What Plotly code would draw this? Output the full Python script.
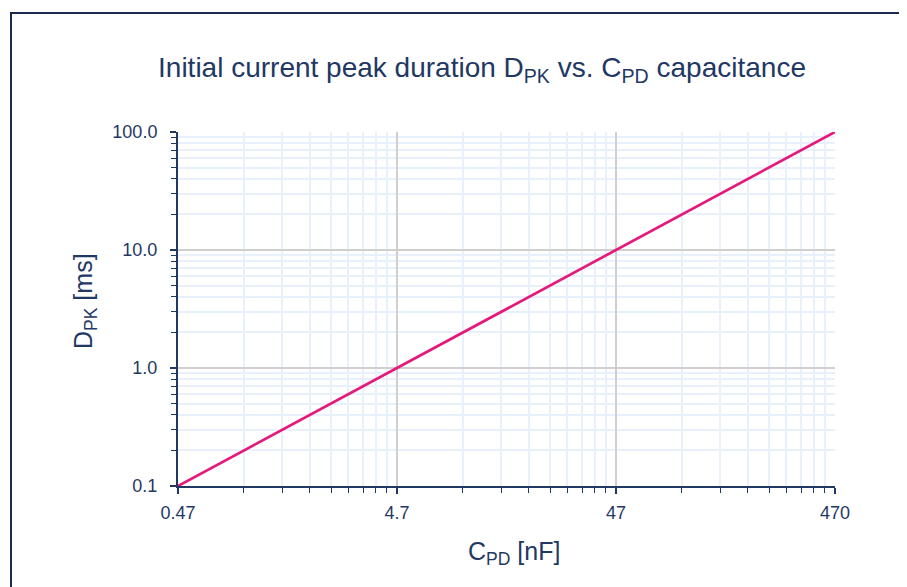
import plotly.graph_objects as go

# Data
c_pd_nf = [0.47, 4.7, 47, 470]
d_pk_ms = [0.1, 1.0, 10.0, 100.0]

x_tickvals = [0.47, 4.7, 47, 470]
x_ticktext = ["0.47", "4.7", "47", "470"]
y_tickvals = [0.1, 1, 10, 100]
y_ticktext = ["0.1", "1.0", "10.0", "100.0"]

x_minor = [0.47 * 10**d * k for d in range(3) for k in range(2, 10)]
y_minor = [0.1 * 10**d * k for d in range(3) for k in range(2, 10)]

navy = "#1F3864"
font = "Liberation Sans"

W, H = 899, 579
L, R, T, B = 170, 72, 124, 101
PW, PH = W - L - R, H - T - B

fig = go.Figure()
fig.add_trace(go.Scatter(
    x=c_pd_nf, y=d_pk_ms, mode="lines",
    line=dict(color="#E5197A", width=2.7),
    showlegend=False, cliponaxis=False,
))

axis_common = dict(
    type="log",
    showline=True, linecolor=navy, linewidth=2,
    ticks="outside", ticklen=6, tickwidth=1.5, tickcolor=navy,
    showgrid=True, gridcolor="#CFCFCF", gridwidth=1.5,
    zeroline=False, mirror=False,
    tickfont=dict(size=18, color=navy, family=font),
)

fig.update_xaxes(
    **axis_common,
    range=[-0.32790214206428253, 2.6720978579357175],
    tickmode="array", tickvals=x_tickvals, ticktext=x_ticktext,
    ticklabelstandoff=3,
    minor=dict(tickmode="array", tickvals=x_minor, ticks="outside", ticklen=5,
               tickcolor=navy, tickwidth=1.2, showgrid=True,
               gridcolor="#E8F0FB", gridwidth=1.5),
)
fig.update_yaxes(
    **axis_common,
    range=[-1, 2],
    tickmode="array", tickvals=y_tickvals, ticktext=y_ticktext,
    ticklabelstandoff=9,
    minor=dict(tickmode="array", tickvals=y_minor, ticks="outside", ticklen=5,
               tickcolor=navy, tickwidth=1.2, showgrid=True,
               gridcolor="#E8F0FB", gridwidth=1.5),
)

fig.update_layout(
    width=W, height=H,
    margin=dict(l=L, r=R, t=T, b=B),
    paper_bgcolor="white", plot_bgcolor="white",
    font=dict(family=font, color=navy, size=18),
    title=dict(
        text="Initial current peak duration D<sub>PK</sub> vs. C<sub>PD</sub> capacitance",
        x=474 / W, xanchor="center", y=1 - 59 / H, yanchor="middle",
        font=dict(size=28, color=navy, family=font),
    ),
    annotations=[
        dict(text="C<sub>PD</sub> [nF]", xref="paper", yref="paper",
             x=(506 - L) / PW, y=-(545 - (T + PH)) / PH,
             xanchor="center", yanchor="middle", showarrow=False,
             font=dict(size=25, color=navy, family=font)),
        dict(text="D<sub>PK</sub> [ms]", xref="paper", yref="paper",
             x=(77 - L) / PW, y=((T + PH) - 293) / PH, textangle=-90,
             xanchor="center", yanchor="middle", showarrow=False,
             font=dict(size=25, color=navy, family=font)),
    ],
    shapes=[dict(
        type="rect", xref="paper", yref="paper",
        x0=(3 - L) / PW, x1=1.5, y0=-1.0, y1=(T + PH - 5) / PH,
        line=dict(color="#1B2A4A", width=2), fillcolor="rgba(0,0,0,0)", layer="below",
    )],
)

fig.write_html("out.html")
